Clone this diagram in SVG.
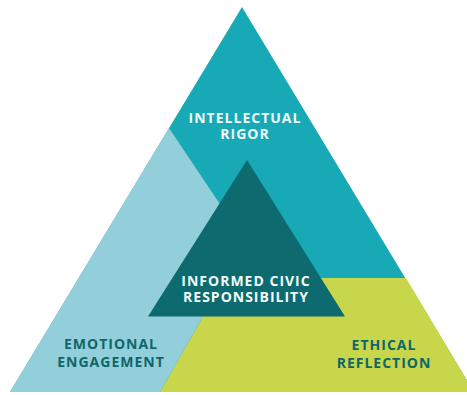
<svg xmlns="http://www.w3.org/2000/svg" width="467" height="395" viewBox="0 0 467 395">
  <style>
    .lbl { font-family: "Open Sans", "Liberation Sans", sans-serif; font-weight: 700; font-size: 14px; letter-spacing: 1px; text-anchor: middle; }
    .light { fill: #f2fbfb; }
    .dark { fill: #0e6669; }
  </style>
  <rect width="467" height="395" fill="#ffffff"/>

  <!-- outer pyramid: intellectual rigor band -->
  <g id="intellectual-rigor">
    <polygon points="242,7 10,392 474,392" fill="#17a9b6"/>
    <text class="lbl light" x="245" y="122.7">INTELLECTUAL</text>
    <text class="lbl light" x="245" y="139">RIGOR</text>
  </g>

  <!-- left face -->
  <g id="emotional-engagement">
    <polygon points="169,128 219.5,203.5 203,316.5 160,392 10,392" fill="#93cfda"/>
    <text class="lbl dark" x="111" y="349">EMOTIONAL</text>
    <text class="lbl dark" x="111" y="367.3">ENGAGEMENT</text>
  </g>

  <!-- right face -->
  <g id="ethical-reflection">
    <polygon points="225,278 406,278 474,392 160,392" fill="#c7d64b"/>
    <text class="lbl dark" x="384" y="350">ETHICAL</text>
    <text class="lbl dark" x="384" y="368.3">REFLECTION</text>
  </g>

  <!-- core -->
  <g id="informed-civic-responsibility">
    <polygon points="247,160 148,316.5 345,316.5" fill="#0d6b6f"/>
    <text class="lbl light" x="246" y="285.7">INFORMED CIVIC</text>
    <text class="lbl light" x="246" y="301.7">RESPONSIBILITY</text>
  </g>

  <g id="connectors"/>
</svg>
